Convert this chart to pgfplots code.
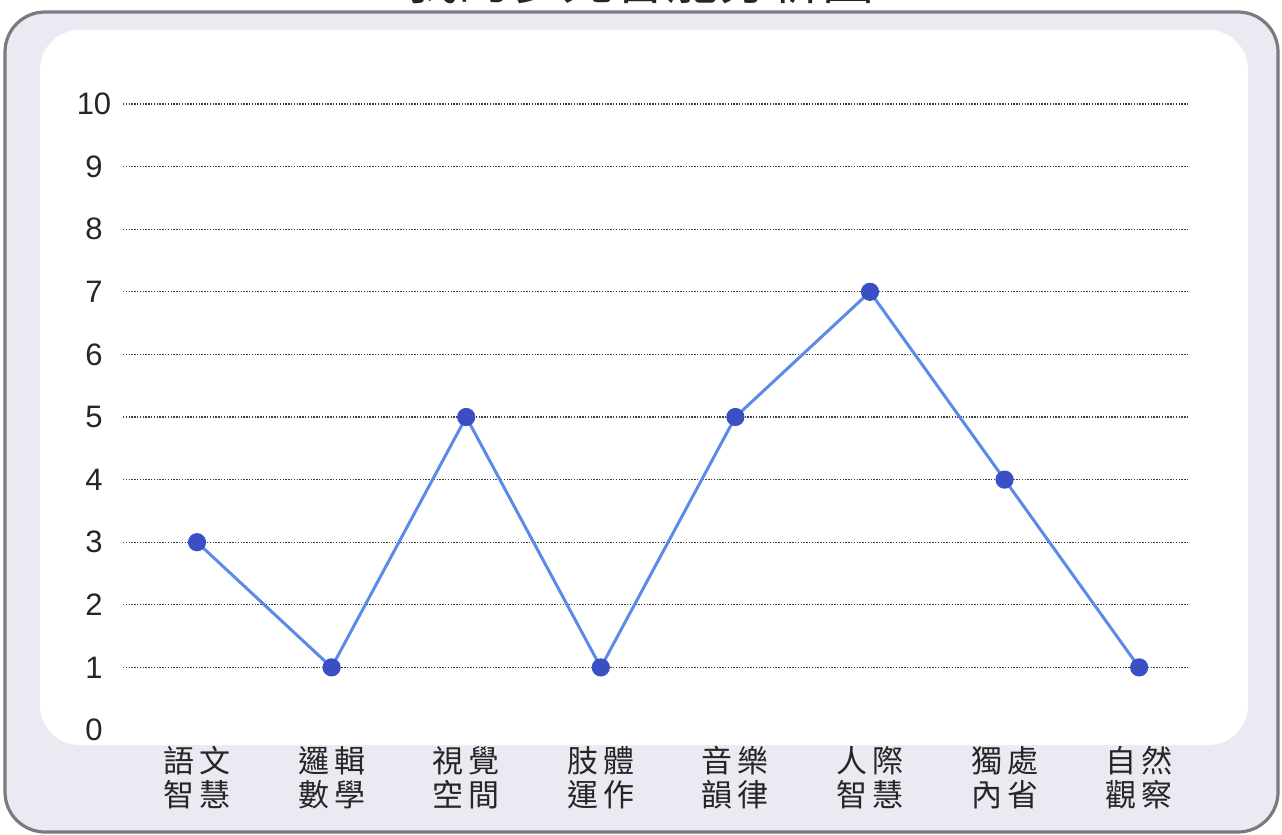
\documentclass[border=0pt]{standalone}
\usepackage{fontspec}
\setmainfont{Liberation Sans}
\newfontfamily\cjk{Noto Sans CJK TC}
\usepackage{pgfplots}
\pgfplotsset{compat=1.18}
\definecolor{bandgray}{HTML}{EAEAF2}
\definecolor{framegray}{HTML}{7A7A80}
\definecolor{lineblue}{HTML}{5A8BE6}
\definecolor{markblue}{HTML}{3B4FC4}
\begin{document}
\begin{tikzpicture}[x=1bp,y=1bp]
\useasboundingbox (0,0) rectangle (641,417);
% outer frame and inner panel
\draw[framegray, line width=1.6bp, fill=bandgray, rounded corners=20bp] (2.5,1) rectangle (639,411);
\fill[white, rounded corners=20bp] (20,44.5) rectangle (624,402);
% clipped title
\node[anchor=base, font=\cjk\fontsize{26bp}{30bp}\selectfont, text=black!85] at (320,417) {我的多元智能分析圖};
\begin{axis}[
  at={(61.5bp,52bp)}, anchor=south west,
  scale only axis, width=532.5bp, height=313bp,
  xmin=-0.55, xmax=7.363, ymin=0, ymax=10,
  axis line style={draw=none}, tick style={draw=none},
  major tick length=0pt,
  ytick={1,...,10},
  extra y ticks={0}, extra y tick style={grid=none},
  xtick={0,...,7},
  xticklabels={{語\hspace{2.5bp}文\\智\hspace{2.5bp}慧},{邏\hspace{2.5bp}輯\\數\hspace{2.5bp}學},{視\hspace{2.5bp}覺\\空\hspace{2.5bp}間},{肢\hspace{2.5bp}體\\運\hspace{2.5bp}作},{音\hspace{2.5bp}樂\\韻\hspace{2.5bp}律},{人\hspace{2.5bp}際\\智\hspace{2.5bp}慧},{獨\hspace{2.5bp}處\\內\hspace{2.5bp}省},{自\hspace{2.5bp}然\\觀\hspace{2.5bp}察}},
  xticklabel style={align=center, font=\cjk\fontsize{15.5bp}{17bp}\selectfont, anchor=north, inner sep=0pt, yshift=-8bp, text=black!85},
  yticklabel style={anchor=center, xshift=-14.5bp, font=\fontsize{15.5bp}{18bp}\selectfont, text=black!85},
  /pgf/number format/assume math mode=true,
  ymajorgrids,
  grid style={black!75, line width=0.6bp, dash pattern=on 0.7bp off 0.7bp},
  clip=false,
]
\addplot[lineblue, line width=1.5bp, mark=*, mark size=3.8, mark options={fill=markblue, draw=markblue}]
  coordinates {(0,3) (1,1) (2,5) (3,1) (4,5) (5,7) (6,4) (7,1)};
\end{axis}
\end{tikzpicture}
\end{document}
